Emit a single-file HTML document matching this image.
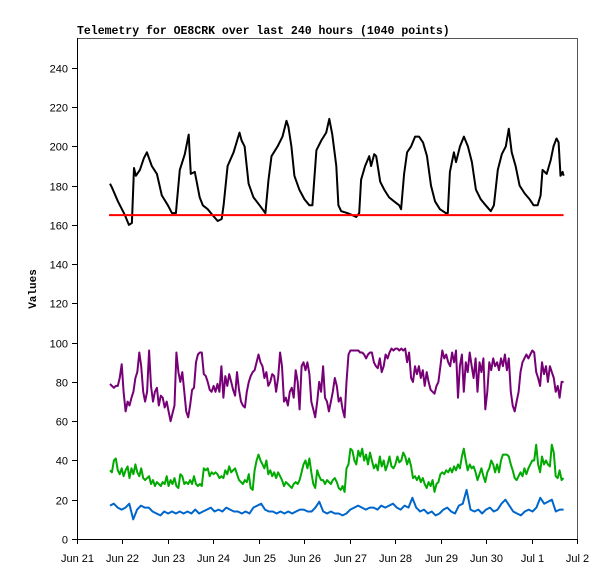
<!DOCTYPE html>
<html><head><meta charset="utf-8"><style>
body{margin:0;background:#fff}
svg{display:block}
text{font-family:"Liberation Sans",sans-serif;font-size:11px;fill:#000}
.mono{font-family:"Liberation Mono",monospace;font-weight:bold;font-size:11px}
.title{font-size:11.5px}
</style></head><body>
<svg id="chart" width="615" height="579"></svg>
<script>
// ---- data ----
const xTickLabels=["Jun 21","Jun 22","Jun 23","Jun 24","Jun 25","Jun 26","Jun 27","Jun 28","Jun 29","Jun 30","Jul 1","Jul 2"];
const yTickValues=[0,20,40,60,80,100,120,140,160,180,200,220,240];
const startOffsetHours=16.9; // first sample relative to Jun 21 00:00
const thresholdValue=165;
const blackHours=[0.5,1.6,4.7,8.4,10.5,12.1,13.2,14.2,16.3,18.4,20,22.6,25.3,27.9,31.1,33.2,35.3,37.4,40,42.1,43.2,45.3,47.9,49.5,52.1,54.7,57.4,59.5,60.5,62.6,65.8,68.9,70,71.6,73.7,76.3,79.5,82.6,84.2,85.8,89,91.6,93.7,94.7,96.3,97.9,100.5,103.2,105.8,107.4,109.5,112.1,114.7,116.3,117.9,120,121.1,122.6,125.8,128.4,130.5,132.1,133.1,135.2,137.4,138.4,140,141.1,143.2,145.3,147.9,150.5,153.2,154.2,155.8,157.4,159.5,161.6,163.7,165.8,167.9,170,172.1,174.7,177.9,178.9,180,182.1,183.2,185.3,187.4,189.5,191.6,193.7,196.3,198.9,201.6,203.2,205.3,207.4,209.5,211.1,212.6,214.7,216.8,219.5,222.1,224.2,226.3,227.9,228.9,231.1,233.2,234.7,236.3,237.4,238.4,239.5,240];
const blackValues=[181,179,172,165,160,161,189,185,188,194,197,190,186,175,170,166,166,188,196,206,186,187,174,170,168,165,162,163,170,190,197,207,203,200,181,174,170,166,183,195,200,205,213,210,200,185,178,173,170,170,198,203,207,214,206,190,170,167,166,165,164,166,183,190,195,190,196,195,182,178,174,172,170,168,186,197,200,205,205,202,195,180,172,168,166,166,187,197,192,200,205,200,192,178,173,170,167,170,188,196,200,209,197,190,180,176,173,170,170,175,188,186,193,200,204,202,185,187,185];
const purpleValues=[79,78,77,78,78,82,89,75,65,70,68,72,75,82,85,95,88,75,70,75,96,78,70,75,77,68,73,72,67,70,65,60,64,68,95,85,80,85,75,65,62,68,76,77,90,94,95,95,84,83,80,76,75,78,75,79,75,88,72,83,78,84,80,76,73,85,76,70,68,67,75,80,83,85,86,90,94,90,88,82,85,78,80,84,83,75,82,95,88,70,72,68,75,77,72,86,80,66,88,90,86,90,84,70,66,62,70,80,75,88,72,70,65,70,75,82,78,70,72,66,62,80,94,96,96,96,96,96,95,95,94,92,94,95,95,90,88,87,92,85,88,94,92,95,97,96,97,97,96,97,96,97,90,95,82,80,88,84,88,82,86,78,85,80,76,75,74,78,80,88,96,92,94,90,88,95,90,96,72,88,94,75,90,85,95,88,82,92,75,90,85,92,66,75,90,86,92,88,90,86,92,88,94,86,92,75,68,65,70,75,85,90,92,94,92,94,96,95,85,82,78,90,84,88,80,88,85,82,75,78,72,80,80];
const greenValues=[35,34,40,41,35,33,36,32,35,37,31,36,33,38,34,32,36,31,30,31,32,28,30,27,29,28,27,29,28,32,27,30,28,31,27,26,33,32,28,29,28,30,28,32,28,27,28,27,36,35,36,32,34,33,34,33,31,32,31,35,33,37,34,35,36,33,30,29,28,30,29,33,26,25,35,40,43,40,38,36,40,33,35,32,34,31,34,32,30,27,29,28,27,26,28,29,28,30,34,38,40,36,41,34,28,26,35,32,30,30,28,30,29,28,30,31,29,26,25,27,24,36,38,46,45,40,38,45,42,46,40,43,38,44,40,36,38,35,42,37,40,35,38,42,37,36,38,42,39,40,44,42,38,41,37,31,32,30,32,29,31,28,26,29,27,30,24,28,29,33,34,33,35,34,36,34,37,35,38,36,42,46,40,35,38,36,37,34,30,33,36,32,29,34,36,40,38,34,38,34,40,43,43,43,42,38,35,31,30,32,34,32,36,33,36,38,40,40,48,38,34,42,38,40,38,37,48,44,32,31,35,30,31];
const blueValues=[17,18,16,15,16,18,10,15,17,16,16,14,13,12,14,13,14,13,14,13,14,13,15,13,14,15,16,14,15,14,16,15,14,14,13,14,13,16,17,18,15,14,14,13,14,13,14,13,14,15,15,14,14,16,19,14,13,14,13,13,12,13,15,16,17,16,15,16,16,15,17,16,17,18,16,15,17,16,21,16,14,15,13,14,12,13,15,16,14,13,17,18,25,15,14,15,13,15,16,14,15,18,20,17,14,13,12,14,15,14,16,21,18,19,20,14,15,15];

// ---- layout ----
const L=77,R=577,T=38,B=539,YMAX=255.2,DAYS=11;
const svg=document.getElementById('chart');
const NS='http://www.w3.org/2000/svg';
function xScale(hAbs){return L+hAbs/(DAYS*24)*(R-L);}
function yScale(v){return B-v/YMAX*(B-T);}
function mk(tag,attrs,parent){const e=document.createElementNS(NS,tag);for(const k in attrs)e.setAttribute(k,attrs[k]);(parent||svg).appendChild(e);return e;}

const title=mk('text',{x:77,y:34,class:'mono title'});


title.textContent='Telemetry for OE8CRK over last 240 hours (1040 points)';

const frame=mk('rect',{x:L+0.5,y:T+0.5,width:R-L,height:B-T,fill:'none',stroke:'#555','stroke-width':1});


const yAxis=mk('line',{x1:L+0.5,y1:T,x2:L+0.5,y2:B,stroke:'#000'});


const xAxis=mk('line',{x1:L,y1:B+0.5,x2:R,y2:B+0.5,stroke:'#000'});



yTickValues.forEach(v=>{
  const y=Math.round(yScale(v))+0.5;
  const t=mk('line',{x1:L-5,y1:y,x2:L,y2:y,stroke:'#000'});
  
  
  const lb=mk('text',{x:L-9,y:y+4,'text-anchor':'end'});
  
  
  lb.textContent=v;
});
xTickLabels.forEach((s,i)=>{
  const x=Math.round(xScale(i*24))+0.5;
  const t=mk('line',{x1:x,y1:B,x2:x,y2:B+5,stroke:'#000'});
  
  
  const lb=mk('text',{x:x,y:562,'text-anchor':'middle'});
  
  
  lb.textContent=s;
});
const yt=mk('text',{x:0,y:0,class:'mono',transform:'translate(36,289) rotate(-90)','text-anchor':'middle'});


yt.textContent='Values';

function drawSeries(hours,vals,color,name){
  const pts=vals.map((v,i)=>xScale(startOffsetHours+hours[i]).toFixed(1)+','+yScale(v).toFixed(1)).join(' ');
  const p=mk('polyline',{points:pts,fill:'none',stroke:color,'stroke-width':2,'stroke-linejoin':'round'});
  
  
}
function uniformHours(n){const a=[];for(let i=0;i<n;i++)a.push(0.5+i*(239.5)/(n-1));return a;}

drawSeries(uniformHours(purpleValues.length),purpleValues,'#770077','series-purple');
drawSeries(uniformHours(greenValues.length),greenValues,'#00aa00','series-green');
drawSeries(uniformHours(blueValues.length),blueValues,'#0066cc','series-blue');
drawSeries(blackHours,blackValues,'#000','series-black');
const th=mk('line',{x1:xScale(startOffsetHours),y1:yScale(thresholdValue),x2:xScale(startOffsetHours+240),y2:yScale(thresholdValue),stroke:'#ff0000','stroke-width':2});


</script>
</body></html>
